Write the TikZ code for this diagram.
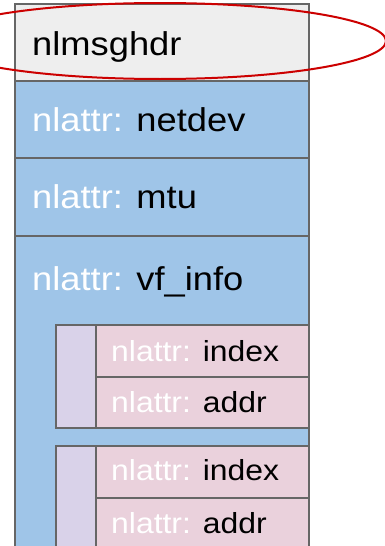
\documentclass[tikz,border=0pt]{standalone}
\usepackage{fontspec}
\usetikzlibrary{shapes.geometric}
\setmainfont[FakeStretch=1.1]{Liberation Sans}
\definecolor{hdrgray}{HTML}{EEEEEE}
\definecolor{attrblue}{HTML}{9FC5E8}
\definecolor{nestpurple}{HTML}{D9D2E9}
\definecolor{leafpink}{HTML}{EAD1DC}
\definecolor{edgegray}{HTML}{666666}
\definecolor{ringred}{HTML}{CC0000}
\begin{document}
\begin{tikzpicture}[x=1pt,y=-1pt,
  cell/.style={draw=edgegray, line width=2pt, rectangle, inner sep=0pt, anchor=north west},
  bigtxt/.style={font=\fontsize{33}{36}\selectfont, anchor=base west, inner sep=0pt},
  smalltxt/.style={font=\fontsize{29}{32}\selectfont, anchor=base west, inner sep=0pt}]
\useasboundingbox (0,0) rectangle (385,546);
\clip (0,0) rectangle (385,546);

% message header and top-level attributes
\node[cell, fill=hdrgray,  minimum width=294.3pt, minimum height=77.3pt] (hdr)    at (14,2.7) {};
\node[cell, fill=attrblue, minimum width=294.3pt, minimum height=76.7pt] (netdev) at (14,80) {};
\node[cell, fill=attrblue, minimum width=294.3pt, minimum height=78.3pt] (mtu)    at (14,156.7) {};
\node[cell, fill=attrblue, minimum width=294.3pt, minimum height=330pt]  (vf)     at (14,235) {};

% first nested vf entry
\node[cell, fill=nestpurple, minimum width=40pt,    minimum height=103pt]  (stripA) at (55,324.3) {};
\node[cell, fill=leafpink,   minimum width=213.3pt, minimum height=51.4pt] (idxA)   at (95,324.3) {};
\node[cell, fill=leafpink,   minimum width=213.3pt, minimum height=51.6pt] (addrA)  at (95,375.7) {};

% second nested vf entry
\node[cell, fill=nestpurple, minimum width=40pt,    minimum height=130pt]  (stripB) at (55,445) {};
\node[cell, fill=leafpink,   minimum width=213.3pt, minimum height=51.7pt] (idxB)   at (95,445) {};
\node[cell, fill=leafpink,   minimum width=213.3pt, minimum height=70pt]   (addrB)  at (95,496.7) {};

% labels
\node[bigtxt] (thdr) at (32,55) {nlmsghdr};
\node[bigtxt] (tnetdev) at (32,131.7) {{\color{white}nlattr:} netdev};
\node[bigtxt] (tmtu) at (32,208.7) {{\color{white}nlattr:} mtu};
\node[bigtxt] (tvf) at (32,290) {{\color{white}nlattr:} vf\_info};
\node[smalltxt] (tidxA) at (111,361.7) {{\color{white}nlattr:} index};
\node[smalltxt] (taddrA) at (111,412.7) {{\color{white}nlattr:} addr};
\node[smalltxt] (tidxB) at (111,480.7) {{\color{white}nlattr:} index};
\node[smalltxt] (taddrB) at (111,533) {{\color{white}nlattr:} addr};

% highlight ring round the header
\node[draw=ringred, line width=2pt, ellipse, minimum width=452pt, minimum height=76pt, inner sep=0pt] (ring) at (160,41) {};
\end{tikzpicture}
\end{document}
